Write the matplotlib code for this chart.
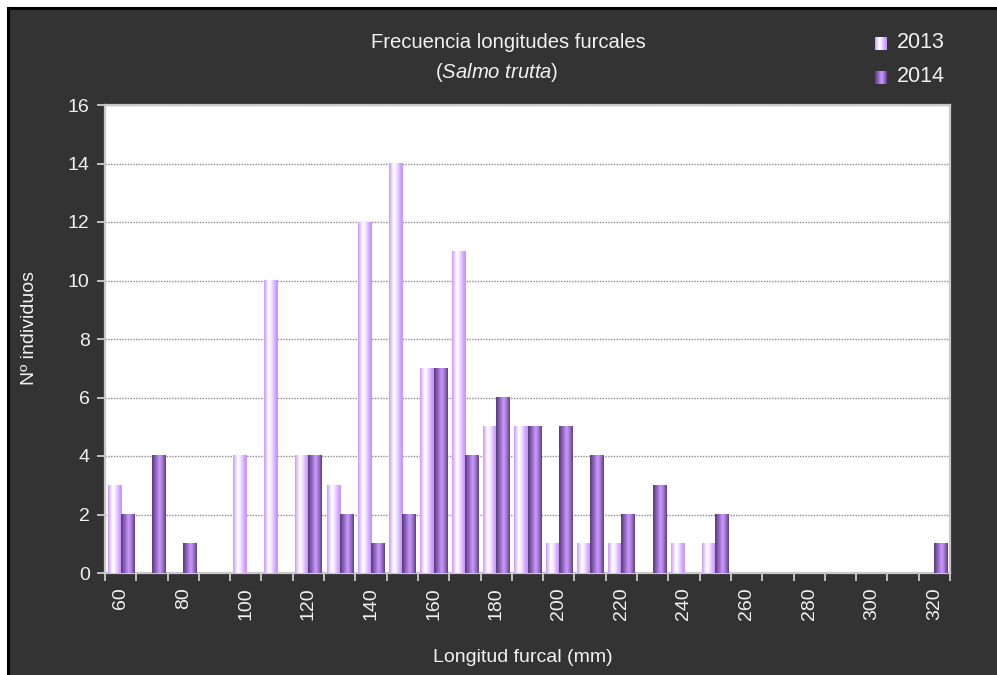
import numpy as np
import matplotlib
matplotlib.use("Agg")
import matplotlib.pyplot as plt
from matplotlib.colors import LinearSegmentedColormap, to_rgb
from matplotlib.patches import Rectangle

plt.rcParams['font.family'] = ['Liberation Sans', 'DejaVu Sans']
plt.rcParams['mathtext.fontset'] = 'custom'
plt.rcParams['mathtext.it'] = 'Liberation Sans:italic'
plt.rcParams['mathtext.rm'] = 'Liberation Sans'

# Fork-length classes (mm) and number of individuals per year
lengths = list(range(60, 330, 10))
counts_2013 = [3, 0, 0, 0, 4, 10, 4, 3, 12, 14, 7, 11, 5, 5, 1, 1, 1, 0, 1, 1,
               0, 0, 0, 0, 0, 0, 0]
counts_2014 = [2, 4, 1, 0, 0, 0, 4, 2, 1, 2, 7, 4, 6, 5, 5, 4, 2, 3, 0, 2,
               0, 0, 0, 0, 0, 0, 1]
series_labels = ["2013", "2014"]
tick_labels = [str(v) if i % 2 == 0 else "" for i, v in enumerate(lengths)]

BG = "#333333"
TXT = "#f2f2f2"


def gradient(stops):
    cols = [(p, to_rgb(c)) for p, c in stops]
    cmap = LinearSegmentedColormap.from_list("g", cols)
    return cmap(np.linspace(0, 1, 64))[None, :, :]


grad_2013 = gradient([(0.0, "#cc99ff"), (0.33, "#ffffff"), (0.5, "#f6eeff"),
                      (0.85, "#cfa0ff"), (1.0, "#c894fa")])
grad_2014 = gradient([(0.0, "#583a78"), (0.25, "#8a62b8"), (0.55, "#cc99ff"),
                      (0.75, "#a57ad4"), (1.0, "#5e4080")])

W, H = 997, 675
fig = plt.figure(figsize=(W / 100, H / 100), dpi=100, facecolor="white")

# dark panel with black frame on the top and left edges
panel = Rectangle((7 / W, 0), 1, 1 - 7 / H, transform=fig.transFigure,
                  facecolor=BG, edgecolor="none", zorder=-10)
fig.patches.append(panel)
fig.add_artist(plt.Line2D([8 / W, 8 / W], [0, 1 - 8 / H], color="black",
                          lw=2.2, transform=fig.transFigure, zorder=-5))
fig.add_artist(plt.Line2D([8 / W, 1], [1 - 8 / H, 1 - 8 / H], color="black",
                          lw=2.2, transform=fig.transFigure, zorder=-5))

left, right, top, bottom = 105, 950, 105, 573
ax = fig.add_axes([left / W, 1 - bottom / H, (right - left) / W,
                   (bottom - top) / H])
ax.set_facecolor("white")

x = np.arange(len(lengths))
bw = 0.42
bars13 = ax.bar(x - bw / 2, counts_2013, bw, color="none", edgecolor="none")
bars14 = ax.bar(x + bw / 2, counts_2014, bw, color="none", edgecolor="none")

for bars, grad in ((bars13, grad_2013), (bars14, grad_2014)):
    for b in bars:
        h = b.get_height()
        if h <= 0:
            continue
        x0 = b.get_x()
        ax.imshow(grad, extent=(x0, x0 + b.get_width(), 0, h), aspect="auto",
                  interpolation="bilinear", zorder=3)

ax.set_xlim(-0.5, len(lengths) - 0.5)
ax.set_ylim(0, 16)

ax.set_yticks(np.arange(0, 17, 2))
ax.yaxis.grid(True, color="#8a8a8a", linestyle=(0, (1, 1)), linewidth=1.0,
              zorder=1)
ax.set_axisbelow(True)

ax.set_xticks(x)
ax.set_xticklabels(tick_labels, rotation=90)
ax.set_xticks(np.arange(-0.5, len(lengths), 1.0), minor=True)
ax.tick_params(axis="x", which="major", length=0, pad=10, labelsize=14,
               labelcolor=TXT)
ax.tick_params(axis="x", which="minor", length=6, width=1.2, color="#d8d8d8")
ax.tick_params(axis="y", length=6, width=1.2, color="#d8d8d8", pad=5,
               labelsize=14, labelcolor=TXT)

for s in ax.spines.values():
    s.set_color("#c8c8c8")
    s.set_linewidth(1.6)

fig.text(508 / W, 1 - 42 / H, "Frecuencia longitudes furcales", color=TXT,
         fontsize=14.6, ha="center", va="center")
fig.text(497 / W, 1 - 72 / H, r"($\it{Salmo\ trutta}$)", color=TXT,
         fontsize=14.6, ha="center", va="center")

fig.text(30 / W, 1 - 328 / H, "Nº individuos", color=TXT, fontsize=14,
         rotation=90, ha="center", va="center")
fig.text(523 / W, 1 - 657 / H, "Longitud furcal (mm)", color=TXT,
         fontsize=14, ha="center", va="center")

# legend
for i, (lab, grad) in enumerate(zip(series_labels, (grad_2013, grad_2014))):
    yc = 43 + 34 * i
    sw = fig.add_axes([875 / W, 1 - (yc + 7) / H, 12 / W, 13 / H])
    sw.imshow(grad, aspect="auto", interpolation="bilinear")
    sw.axis("off")
    fig.text(897 / W, 1 - yc / H, lab, color=TXT, fontsize=15.5, ha="left",
             va="center")

fig.savefig("out.png", dpi=100, facecolor=fig.get_facecolor())
